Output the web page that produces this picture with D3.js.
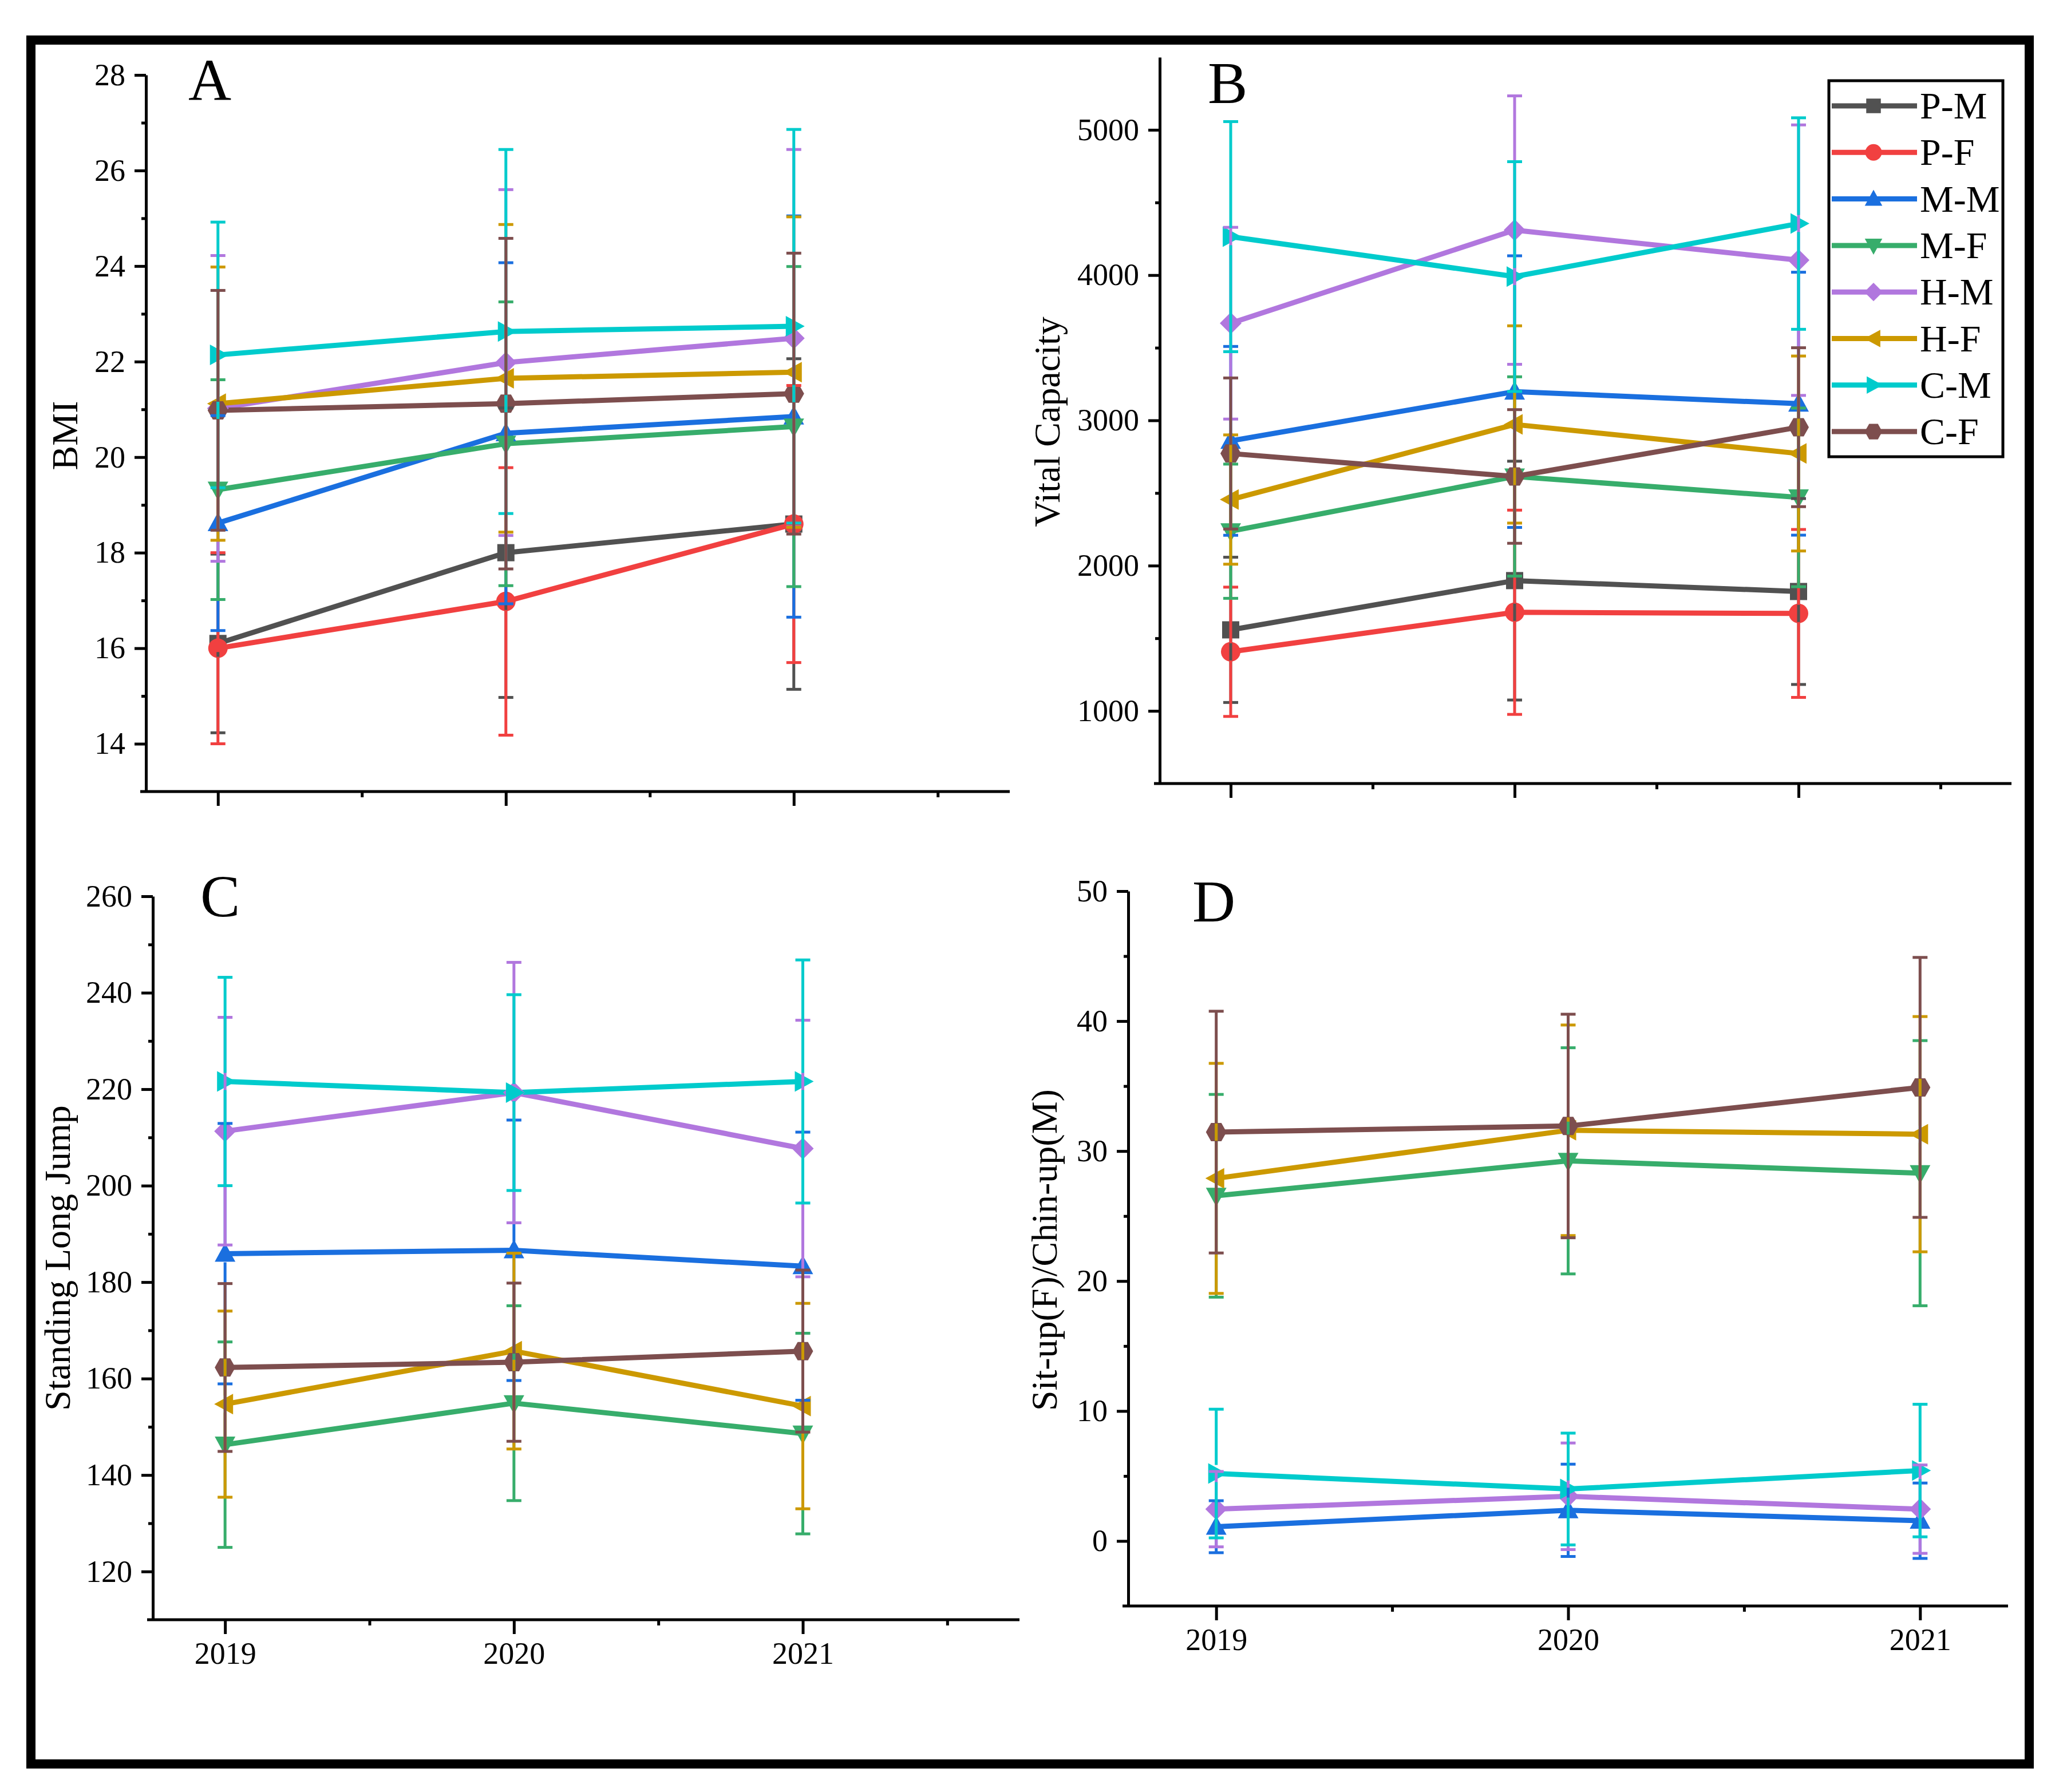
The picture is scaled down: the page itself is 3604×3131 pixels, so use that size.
<!DOCTYPE html>
<html><head><meta charset="utf-8">
<script src="https://cdn.jsdelivr.net/npm/d3@7"></script>
<style>body{margin:0;background:#fff} svg{display:block}</style>
</head><body>
<svg id="chart" width="3604" height="3131"></svg>
<script>
// ---------- data ----------
const years = [2019, 2020, 2021];
const groups = ["P-M","P-F","M-M","M-F","H-M","H-F","C-M","C-F"];
const colors = ["#515151","#F14040","#1A6FDF","#37AD6B","#B177DE","#CC9900","#00CBCC","#7D4E4E"];
const symbolNames = ["square","circle","triangleUp","triangleDown","diamond","triangleLeft","triangleRight","hexagon"];

// A: BMI
const bmiMean = [
  [16.1, 18.0, 18.6],
  [16.0, 16.98, 18.6],
  [18.62, 20.5, 20.85],
  [19.32, 20.28, 20.64],
  [21.02, 21.98, 22.49],
  [21.12, 21.65, 21.78],
  [22.14, 22.63, 22.74],
  [20.98, 21.12, 21.33]
];
const bmiSD = [
  [1.87, 3.03, 3.46],
  [2.0, 2.8, 2.9],
  [2.25, 3.57, 4.2],
  [2.3, 2.97, 3.35],
  [3.2, 3.62, 3.95],
  [2.86, 3.22, 3.25],
  [2.78, 3.81, 4.12],
  [2.51, 3.46, 2.94]
];
// B: Vital Capacity
const vcMean = [
  [1558, 1897, 1822],
  [1407, 1679, 1671],
  [2859, 3198, 3115],
  [2237, 2614, 2470],
  [3669, 4310, 4103],
  [2455, 2972, 2772],
  [4265, 3990, 4355],
  [2772, 2614, 2953]
];
const vcSD = [
  [500, 822, 640],
  [445, 703, 578],
  [650, 935, 905],
  [462, 686, 615],
  [660, 924, 931],
  [445, 679, 671],
  [792, 791, 728],
  [520, 460, 547]
];
// C: Standing Long Jump (no P groups)
const sljMean = [
  null,
  null,
  [185.9, 186.6, 183.3],
  [146.3, 154.9, 148.6],
  [211.3, 219.3, 207.7],
  [154.7, 165.7, 154.3],
  [221.6, 219.3, 221.6],
  [162.3, 163.4, 165.7]
];
const sljSD = [
  null,
  null,
  [27.0, 27.0, 27.8],
  [21.3, 20.2, 20.8],
  [23.6, 27.0, 26.6],
  [19.3, 20.3, 21.3],
  [21.6, 20.3, 25.2],
  [17.4, 16.4, 16.8]
];
// D: Sit-up(F)/Chin-up(M) (no P groups)
const situpMean = [
  null,
  null,
  [1.1, 2.36, 1.56],
  [26.56, 29.25, 28.3],
  [2.45, 3.44, 2.45],
  [27.9, 31.6, 31.3],
  [5.19, 4.0, 5.42],
  [31.46, 31.93, 34.9]
];
const situpSD = [
  null,
  null,
  [2.0, 3.55, 2.9],
  [7.8, 8.7, 10.2],
  [2.9, 4.1, 3.4],
  [8.85, 8.1, 9.05],
  [4.95, 4.3, 5.1],
  [9.3, 8.6, 10.0]
];

const bmiTicks = [14,16,18,20,22,24,26,28];
const vcTicks = [1000,2000,3000,4000,5000];
const sljTicks = [120,140,160,180,200,220,240,260];
const situpTicks = [0,10,20,30,40,50];

// ---------- layout ----------
const FONT = "'Liberation Serif','Times New Roman',serif";
const svg = d3.select("#chart");
svg.append("rect").attr("width",3604).attr("height",3131).attr("fill","#fff");
svg.append("rect").attr("x",54).attr("y",70).attr("width",3491).attr("height",3012)
  .attr("fill","none").attr("stroke","#000").attr("stroke-width",16);

const panels = [
  {label:"A", mean:bmiMean, sd:bmiSD, title:"BMI",
   xDom:[2018.75,2021.75], xRange:[255,1764], yDom:[13,28], yRange:[1383,131],
   yMajor:bmiTicks, yMinor:d3.range(15,28,2), xMinor:[2019.5,2020.5,2021.5], showYears:false,
   titlePos:[135,761], labelPos:[329,175]},
  {label:"B", mean:vcMean, sd:vcSD, title:"Vital Capacity",
   xDom:[2018.75,2021.75], xRange:[2026,3514], yDom:[500,5500], yRange:[1369,100],
   yMajor:vcTicks, yMinor:[1500,2500,3500,4500], xMinor:[2019.5,2020.5,2021.5], showYears:false,
   titlePos:[1851,737], labelPos:[2110,180]},
  {label:"C", mean:sljMean, sd:sljSD, title:"Standing Long Jump",
   xDom:[2018.75,2021.75], xRange:[267,1781], yDom:[110,260], yRange:[2830,1566],
   yMajor:sljTicks, yMinor:d3.range(130,260,20), xMinor:[2019.5,2020.5,2021.5], showYears:true,
   titlePos:[122,2198], labelPos:[350,1601]},
  {label:"D", mean:situpMean, sd:situpSD, title:"Sit-up(F)/Chin-up(M)",
   xDom:[2018.75,2021.25], xRange:[1971,3508], yDom:[-5,50], yRange:[2806,1557],
   yMajor:situpTicks, yMinor:[5,15,25,35,45], xMinor:[2019.5,2020.5], showYears:true,
   titlePos:[1846,2184], labelPos:[2083,1610]}
];

function symbolPath(name, k) {
  k = k || 1;
  const pts = {
    square: [[-15,-15],[15,-15],[15,15],[-15,15]],
    triangleUp: [[0,-19],[18,14],[-18,14]],
    triangleDown: [[0,19],[18,-14],[-18,-14]],
    diamond: [[0,-19],[19,0],[0,19],[-19,0]],
    triangleLeft: [[-19,0],[14,-18],[14,18]],
    triangleRight: [[19,0],[-14,-18],[-14,18]],
    hexagon: [[18,0],[9,16],[-9,16],[-18,0],[-9,-16],[9,-16]]
  };
  if (name === "circle") {
    const r = 17*k;
    return `M${-r},0A${r},${r} 0 1,0 ${r},0A${r},${r} 0 1,0 ${-r},0Z`;
  }
  return "M" + pts[name].map(p => [p[0]*k, p[1]*k].join(",")).join("L") + "Z";
}

function styleAxis(g) {
  g.selectAll("path.domain").attr("stroke","#000").attr("stroke-width",5);
  g.selectAll(".tick line").attr("stroke","#000").attr("stroke-width",5);
  g.selectAll(".tick text").attr("fill","#000").attr("font-family",FONT).attr("font-size",54);
}

panels.forEach(p => {
  const x = d3.scaleLinear().domain(p.xDom).range(p.xRange);
  const y = d3.scaleLinear().domain(p.yDom).range(p.yRange);
  const g = svg.append("g");

  // axes
  const yAxisG = g.append("g").attr("transform",`translate(${p.xRange[0]},0)`)
    .call(d3.axisLeft(y).tickValues(p.yMajor).tickSize(20).tickPadding(16).tickSizeOuter(0).tickFormat(d3.format("d")));
  styleAxis(yAxisG);
  const yMinorG = g.append("g").attr("transform",`translate(${p.xRange[0]},0)`)
    .call(d3.axisLeft(y).tickValues(p.yMinor).tickSize(8).tickFormat(""));
  yMinorG.select("path.domain").remove();
  styleAxis(yMinorG);

  const xAxisG = g.append("g").attr("transform",`translate(0,${p.yRange[0]})`)
    .call(d3.axisBottom(x).tickValues(years).tickSize(25).tickPadding(14).tickSizeOuter(0)
      .tickFormat(p.showYears ? d3.format("d") : ""));
  styleAxis(xAxisG);
  xAxisG.select("path.domain").attr("d", `M${p.xRange[0]-10},0H${p.xRange[1]}`);
  const xMinorG = g.append("g").attr("transform",`translate(0,${p.yRange[0]})`)
    .call(d3.axisBottom(x).tickValues(p.xMinor).tickSize(10).tickFormat(""));
  xMinorG.select("path.domain").remove();
  styleAxis(xMinorG);

  // panel label and axis title
  g.append("text").attr("x",p.labelPos[0]).attr("y",p.labelPos[1])
    .attr("font-family",FONT).attr("font-size",104).attr("fill","#000").text(p.label);
  g.append("text").attr("transform",`translate(${p.titlePos[0]},${p.titlePos[1]}) rotate(-90)`)
    .attr("text-anchor","middle").attr("font-family",FONT).attr("font-size",64).attr("fill","#000")
    .text(p.title);

  const series = groups.map((name,i) => ({name, i, mean:p.mean[i], sd:p.sd[i]})).filter(s => s.mean);
  const line = d3.line().x((d,j) => x(years[j])).y(d => y(d));

  // lines
  g.append("g").selectAll("path").data(series).join("path")
    .attr("d", s => line(s.mean)).attr("fill","none")
    .attr("stroke", s => colors[s.i]).attr("stroke-width",9).attr("stroke-linejoin","round");

  // symbols
  series.forEach(s => {
    g.append("g").selectAll("path").data(s.mean).join("path")
      .attr("transform",(d,j) => `translate(${x(years[j])},${y(d)})`)
      .attr("d", symbolPath(symbolNames[s.i])).attr("fill", colors[s.i]);
  });

  // error bars (drawn on top, starting at the symbol edge)
  const gap = 15, cap = 13;
  series.forEach(s => {
    const eg = g.append("g").attr("stroke", colors[s.i]).attr("stroke-width",5);
    s.mean.forEach((m,j) => {
      const cx = x(years[j]), cy = y(m);
      const yHi = y(m + s.sd[j]), yLo = y(m - s.sd[j]);
      eg.append("line").attr("x1",cx).attr("x2",cx).attr("y1",cy-gap).attr("y2",yHi);
      eg.append("line").attr("x1",cx).attr("x2",cx).attr("y1",cy+gap).attr("y2",yLo);
      eg.append("line").attr("x1",cx-cap).attr("x2",cx+cap).attr("y1",yHi).attr("y2",yHi);
      eg.append("line").attr("x1",cx-cap).attr("x2",cx+cap).attr("y1",yLo).attr("y2",yLo);
    });
  });
});

// ---------- legend (in panel B) ----------
const lg = svg.append("g");
lg.append("rect").attr("x",3195).attr("y",141).attr("width",304).attr("height",657)
  .attr("fill","#fff").attr("stroke","#000").attr("stroke-width",5);
groups.forEach((name,i) => {
  const cy = 185 + i*81.3;
  lg.append("line").attr("x1",3200).attr("x2",3349).attr("y1",cy).attr("y2",cy)
    .attr("stroke",colors[i]).attr("stroke-width",9);
  lg.append("path").attr("transform",`translate(3273,${cy})`)
    .attr("d",symbolPath(symbolNames[i],0.85)).attr("fill",colors[i]);
  lg.append("text").attr("x",3354).attr("y",cy+22).attr("font-family",FONT)
    .attr("font-size",66).attr("fill","#000").text(name);
});
</script>
</body></html>
